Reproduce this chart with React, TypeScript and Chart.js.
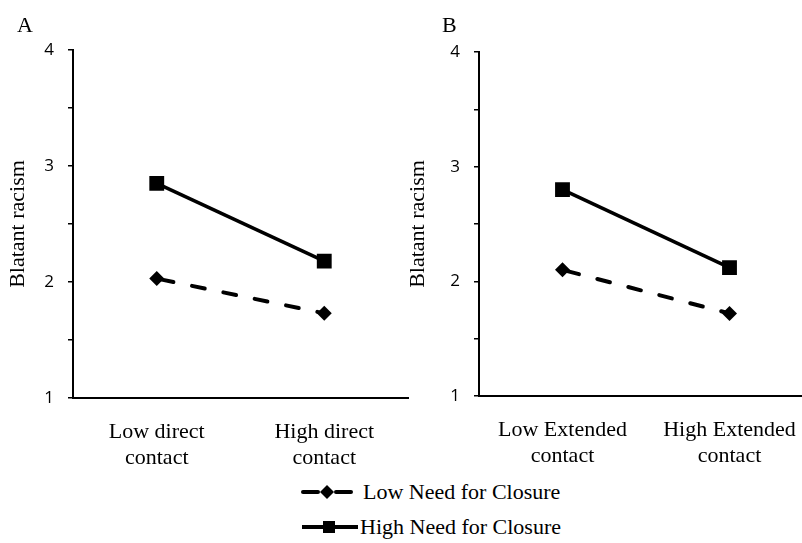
import React, { useEffect, useRef } from "react";
import { Chart, registerables } from "chart.js";

Chart.register(...registerables);

// Category labels (multi-line) for each panel
const directCategories = [["Low direct", "contact"], ["High direct", "contact"]];
const extendedCategories = [["Low Extended", "contact"], ["High Extended", "contact"]];

// Series names
const lowNfcName = "Low Need for Closure";
const highNfcName = "High Need for Closure";

// Panel A: direct contact
const directLowNfc = [2.03, 1.73];
const directHighNfc = [2.85, 2.18];

// Panel B: extended contact
const extendedLowNfc = [2.1, 1.72];
const extendedHighNfc = [2.8, 2.12];

// Y axis
const yMin = 1;
const yMax = 4;
const yStep = 0.5;
const yTitle = "Blatant racism";

const SERIF = "'Liberation Serif', 'Times New Roman', serif";
const SANS = "'Open Sans', 'Noto Sans', sans-serif";

type PanelProps = {
  categories: string[][];
  low: number[];
  high: number[];
  left: number;
  width: number;
  height: number;
  padTop: number;
  axisWidth: number;
  axisHeight: number;
  padRight: number;
  titlePad: number;
};

function Panel(p: PanelProps) {
  const ref = useRef<HTMLCanvasElement | null>(null);

  useEffect(() => {
    if (!ref.current) return;
    const chart = new Chart(ref.current, {
      type: "line",
      data: {
        labels: p.categories as any,
        datasets: [
          {
            label: highNfcName,
            data: p.high,
            borderColor: "#000",
            backgroundColor: "#000",
            borderWidth: 3.5,
            pointStyle: "rect",
            pointRadius: 10.5,
            pointBorderWidth: 0,
            pointBackgroundColor: "#000",
          },
          {
            label: lowNfcName,
            data: p.low,
            borderColor: "#000",
            backgroundColor: "#000",
            borderWidth: 4,
            borderDash: [13, 19],
            borderDashOffset: -4,
            borderCapStyle: "round",
            pointStyle: "rectRot",
            pointRadius: 7.5,
            pointBorderWidth: 0,
            pointBackgroundColor: "#000",
          },
        ],
      },
      options: {
        responsive: false,
        animation: false,
        layout: { padding: { top: p.padTop, right: p.padRight, left: 0, bottom: 0 } },
        plugins: {
          legend: { display: false },
          tooltip: { enabled: false },
        },
        scales: {
          x: {
            type: "category",
            offset: true,
            grid: { display: false, drawTicks: false, tickLength: 0 },
            border: { display: true, color: "#000", width: 2 },
            ticks: {
              color: "#000",
              font: { family: SERIF, size: 22 },
              padding: 21,
              maxRotation: 0,
              autoSkip: false,
            },
            afterFit: (s: any) => {
              s.height = p.axisHeight;
            },
          },
          y: {
            min: yMin,
            max: yMax,
            grid: {
              display: true,
              drawOnChartArea: false,
              drawTicks: true,
              tickLength: 5,
              color: "#000",
              lineWidth: 1.5,
            },
            border: { display: true, color: "#000", width: 2 },
            ticks: {
              stepSize: yStep,
              color: "#000",
              font: { family: SANS, size: 17 },
              padding: 14,
              callback: (v: any) => (Number.isInteger(Number(v)) ? String(v) : ""),
            },
            title: {
              display: true,
              text: yTitle,
              color: "#000",
              font: { family: SERIF, size: 22 },
              padding: { top: p.titlePad, bottom: 0 },
            },
            afterFit: (s: any) => {
              s.width = p.axisWidth;
            },
          },
        },
      },
    });
    return () => chart.destroy();
  }, []);

  return (
    <canvas
      ref={ref}
      width={p.width}
      height={p.height}
      style={{ position: "absolute", left: p.left, top: 0, width: p.width, height: p.height }}
    />
  );
}

function LegendRow({ dashed, top, textLeft, label }: { dashed: boolean; top: number; textLeft: number; label: string }) {
  return (
    <div style={{ position: "absolute", left: 300, top: top - 13, height: 26 }}>
      <svg width={62} height={26} style={{ position: "absolute", left: 0, top: 0 }}>
        {dashed ? (
          <g>
            <line x1={3} y1={13} x2={18} y2={13} stroke="#000" strokeWidth={4} strokeLinecap="round" />
            <polygon points="27,6 34,13 27,20 20,13" fill="#000" />
            <line x1={36} y1={13} x2={51} y2={13} stroke="#000" strokeWidth={4} strokeLinecap="round" />
          </g>
        ) : (
          <g>
            <line x1={2} y1={13} x2={58} y2={13} stroke="#000" strokeWidth={4} />
            <rect x={23} y={7} width={12} height={12} fill="#000" />
          </g>
        )}
      </svg>
      <div
        style={{
          position: "absolute",
          left: textLeft,
          top: 0,
          lineHeight: "26px",
          fontFamily: SERIF,
          fontSize: 22,
          color: "#000",
          whiteSpace: "nowrap",
        }}
      >
        {label}
      </div>
    </div>
  );
}

export default function App() {
  return (
    <div
      style={{
        position: "fixed",
        left: 0,
        top: 0,
        width: 802,
        height: 543,
        overflow: "hidden",
        background: "#fff",
      }}
    >
      <Panel
        categories={directCategories}
        low={directLowNfc}
        high={directHighNfc}
        left={0}
        width={420}
        height={475}
        padTop={50}
        axisWidth={73}
        axisHeight={77}
        padRight={12}
        titlePad={5}
      />
      <Panel
        categories={extendedCategories}
        low={extendedLowNfc}
        high={extendedHighNfc}
        left={405}
        width={420}
        height={475}
        padTop={52}
        axisWidth={74}
        axisHeight={79}
        padRight={12}
        titlePad={0}
      />
      <div style={{ position: "absolute", left: 17, top: 13, fontFamily: SERIF, fontSize: 22, lineHeight: "24px" }}>A</div>
      <div style={{ position: "absolute", left: 442, top: 13, fontFamily: SERIF, fontSize: 22, lineHeight: "24px" }}>B</div>
      <LegendRow dashed top={492} textLeft={63} label={lowNfcName} />
      <LegendRow dashed={false} top={527} textLeft={60} label={highNfcName} />
    </div>
  );
}
